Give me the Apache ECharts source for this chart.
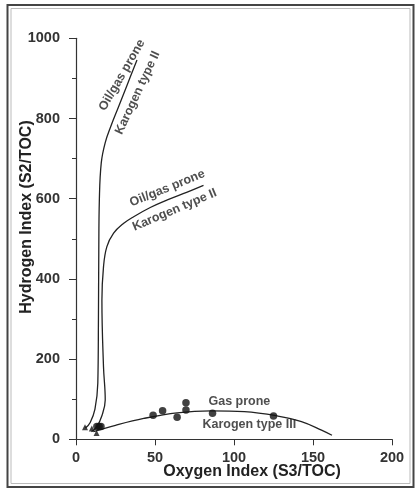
<!DOCTYPE html>
<html><head><meta charset="utf-8">
<script src="https://cdn.jsdelivr.net/npm/echarts@6/dist/echarts.min.js"></script>
<style>html,body{margin:0;padding:0;background:#fff}#c{width:418px;height:490px}</style>
</head><body><div id="c"></div>
<script>
// Curve: Oil/gas prone, Karogen type I/II (left branch)
const curveA = [[6,28],[9,42],[12,75],[13.8,140],[14.2,300],[14.4,450],[14.8,600],[16,690],[18.5,740],[22,780],[27,830],[32,880],[38.6,946]];
// Curve: Oil/gas prone, Karogen type II
const curveB = [[9.8,19],[13.1,31],[16.5,60],[18.5,98],[17.4,181],[16.4,347],[17.4,430],[19.5,480],[23.8,514],[30,538],[36.5,555],[47,578],[57.8,597],[70,616],[80.7,633]];
// Curve: Gas prone, Karogen type III
const curveC = [[11,19],[25,35],[42.9,52],[64,66],[85.4,71],[106.6,69],[127.8,58],[142.7,44],[155.4,23],[162,10]];
// Samples (dots)
const dotsX = [48.8,54.8,64,69.6,69.6,86.4,125,13.2,14.6,15.8];
const dotsY = [60,71,55,91,73,65,58,32,32,32];
// Samples (triangles)
const triX = [5.7,10,13];
const triY = [30,27,16];
const xTicks = [0,50,100,150,200];
const yTicks = [0,200,400,600,800,1000];

const labels = [
  {text:'Oil/gas prone', x:29.1, y:908, rot:60},
  {text:'Karogen type II', x:39, y:864, rot:65},
  {text:'Oil/gas prone', x:57.8, y:626, rot:22},
  {text:'Karogen type II', x:62.4, y:572, rot:23},
  {text:'Gas prone', x:103.4, y:94, rot:0},
  {text:'Karogen type III', x:109.7, y:36, rot:0}
];

const chart = echarts.init(document.getElementById('c'));
const font = 'Liberation Sans, Arial, sans-serif';
const lineS = (d) => ({type:'line', data:d, smooth:0.4, showSymbol:false, symbol:'none', lineStyle:{color:'#222', width:1.3}, z:2});
chart.setOption({
  animation:false,
  grid:{left:76, right:26, top:38.3, bottom:50.7},
  xAxis:{type:'value', min:0, max:200, interval:50,
    axisLine:{show:true, onZero:false, lineStyle:{color:'#333', width:1.2}},
    axisTick:{show:true, length:6, lineStyle:{color:'#333'}},
    axisLabel:{color:'#333', fontFamily:font, fontWeight:'bold', fontSize:14.5, margin:11,
      formatter:v=> xTicks.includes(v)? String(v):''},
    splitLine:{show:false}},
  yAxis:{type:'value', min:0, max:1000, interval:200,
    axisLine:{show:true, onZero:false, lineStyle:{color:'#333', width:1.2}},
    axisTick:{show:true, length:7, lineStyle:{color:'#333'}},
    minorTick:{show:true, splitNumber:2, length:4, lineStyle:{color:'#333'}},
    axisLabel:{color:'#333', fontFamily:font, fontWeight:'bold', fontSize:14.5, margin:16,
      formatter:v=> yTicks.includes(v)? String(v):''},
    splitLine:{show:false}},
  series:[
    lineS(curveA), lineS(curveB), lineS(curveC),
    {type:'scatter', data:dotsX.map((x,i)=>[x,dotsY[i]]), symbol:'circle', symbolSize:7.5, itemStyle:{color:'#111'}, z:3},
    {type:'scatter', data:triX.map((x,i)=>[x,triY[i]]), symbol:'triangle', symbolSize:6, itemStyle:{color:'#111'}, z:3},
    {type:'scatter', data:labels.map(l=>[l.x,l.y]), symbolSize:0, z:4,
      label:{show:true, position:'inside', color:'#222', fontFamily:font, fontSize:12.5, fontWeight:'bold',
        formatter:p=>labels[p.dataIndex].text},
      labelLayout:(p)=>({rotate:labels[p.dataIndex].rot})}
  ],
  graphic:[
    {type:'rect', shape:{x:7.5, y:5, width:406, height:482}, style:{fill:'none', stroke:'#444', lineWidth:2}, silent:true},
    {type:'rect', shape:{x:11, y:8.5, width:399, height:475}, style:{fill:'none', stroke:'#bbb', lineWidth:1}, silent:true},
    {type:'text', x:252, y:472, style:{text:'Oxygen Index (S3/TOC)', fill:'#222', font:'bold 16px '+font, textAlign:'center', textVerticalAlign:'middle'}},
    {type:'text', x:27, y:217, rotation:Math.PI/2, style:{text:'Hydrogen Index (S2/TOC)', fill:'#222', font:'bold 16px '+font, textAlign:'center', textVerticalAlign:'middle'}}
  ]
});
</script></body></html>
